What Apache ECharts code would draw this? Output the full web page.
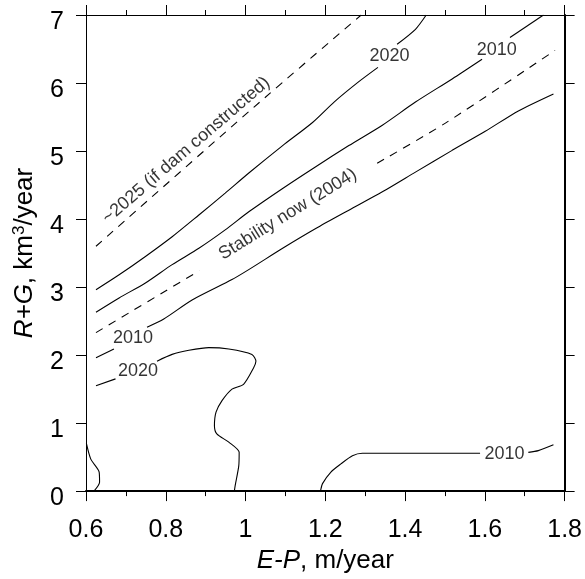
<!DOCTYPE html>
<html><head><meta charset="utf-8">
<script src="https://cdn.jsdelivr.net/npm/echarts@6/dist/echarts.min.js"></script>
<style>html,body{margin:0;padding:0;background:#fff}#c{width:585px;height:579px}</style>
</head><body><div id="c"></div>
<script>
// ---- data (E-P in m/year, R+G in km3/year) ----
const dam2025 = [[0.625,3.60],[1.022,5.65],[1.29,7.0]];
const stabilityA = [[0.625,2.33],[0.884,3.24]];
const stabilityB = [[1.33,4.82],[1.501,5.41],[1.776,6.48]];
const upper2020A = [[0.625,2.96],[0.683,3.18],[0.749,3.45],[0.816,3.74],[0.883,4.06],[0.949,4.38],[1.009,4.68],[1.093,5.08],[1.168,5.42],[1.222,5.72],[1.284,6.02],[1.332,6.23]];
const upper2020B = [[1.38,6.57],[1.426,6.79],[1.453,7.0]];
const upper2010A = [[0.625,2.63],[0.683,2.84],[0.749,3.06],[0.816,3.33],[0.883,3.57],[0.949,3.84],[1.009,4.11],[1.093,4.45],[1.176,4.77],[1.259,5.08],[1.343,5.38],[1.426,5.72],[1.518,6.06],[1.593,6.35]];
const upper2010B = [[1.663,6.67],[1.747,7.0]];
const lower2010A = [[0.625,1.96],[0.67,2.09]];
const lower2010B = [[0.753,2.41],[0.795,2.53],[0.866,2.81],[0.966,3.11],[1.009,3.26],[1.093,3.57],[1.176,3.86],[1.259,4.13],[1.343,4.40],[1.426,4.69],[1.518,5.01],[1.601,5.29],[1.684,5.59],[1.772,5.84]];
const lower2020A = [[0.625,1.55],[0.674,1.65]];
const lower2020B = [[0.778,1.91],[0.816,2.01],[0.858,2.07],[0.908,2.11],[0.958,2.09],[1.016,2.01],[1.026,1.91],[1.02,1.81],[0.995,1.57],[0.966,1.50],[0.941,1.33],[0.926,1.16],[0.922,0.96],[0.928,0.84],[0.958,0.72],[0.984,0.57],[0.983,0.37],[0.974,0.08],[0.972,0.0]];
const cornerLeft = [[0.601,0.70],[0.612,0.47],[0.633,0.28],[0.634,0.13],[0.62,0.0]];
const bottom2010A = [[1.188,0.0],[1.193,0.11],[1.214,0.28],[1.239,0.40],[1.268,0.52],[1.293,0.556],[1.588,0.556]];
const bottom2010B = [[1.709,0.57],[1.734,0.595],[1.772,0.68]];
const labelTexts = ['~2025 (if dam constructed)','Stability now (2004)','2020','2010','2010','2020','2010'];
const labelPos = [[0.851,5.01],[1.106,4.07],[1.361,6.39],[1.63,6.485],[0.718,2.25],[0.7305,1.765],[1.649,0.54]];
const labelAngle = [40.7,31.6,0,0,0,0,0];
const xTickRange = [0.6,1.8,0.2];
const yTickRange = [0,7,1];

const FONT = "'Liberation Sans', Arial, Helvetica, sans-serif";
function seg(data, dashed){
  return {type:'line', data:data, showSymbol:false, symbol:'none', smooth:0.25,
    lineStyle:{color:'#000', width:1.1, type: dashed ? [8,7] : 'solid'},
    silent:true, z:2};
}
const series = [
  seg(dam2025,true), seg(stabilityA,true), seg(stabilityB,true),
  seg(upper2020A), seg(upper2020B), seg(upper2010A), seg(upper2010B),
  seg(lower2010A), seg(lower2010B), seg(lower2020A), seg(lower2020B),
  seg(cornerLeft), seg(bottom2010A), seg(bottom2010B)
];
series.push({
  type:'scatter', symbolSize:0, silent:true, z:3,
  data: labelPos.map((p,i)=>({value:p, label:{rotate:labelAngle[i]}})),
  label:{show:true, position:'inside', color:'#000', fontSize:18, fontFamily:FONT,
    textBorderWidth:0, textBorderColor:'transparent',
    formatter: p => labelTexts[p.dataIndex]}
});
const tickCommon = {show:true, length:10, lineStyle:{color:'#000', width:1}};
const minorCommon = {show:true, splitNumber:2, length:5, lineStyle:{color:'#000', width:1}};
const option = {
  animation:false,
  backgroundColor:'#fff',
  grid:{left:86, right:19.5, top:15, bottom:87},
  xAxis:[{
    type:'value', min:xTickRange[0], max:xTickRange[1], interval:xTickRange[2], position:'bottom',
    axisLine:{show:true, onZero:false, lineStyle:{color:'#000', width:2}},
    axisTick:tickCommon, minorTick:minorCommon, splitLine:{show:false},
    axisLabel:{color:'#000', fontSize:25, fontFamily:FONT, margin:27},
    name:'{i|E-P}, m/year', nameLocation:'middle', nameGap:50,
    nameTextStyle:{color:'#000', fontSize:26, fontFamily:FONT, rich:{i:{fontStyle:'italic', fontSize:26, fontFamily:FONT, color:'#000'}}}
  },{
    type:'value', min:xTickRange[0], max:xTickRange[1], interval:xTickRange[2], position:'top',
    axisLine:{show:true, onZero:false, lineStyle:{color:'#000', width:1}},
    axisTick:tickCommon, minorTick:minorCommon, splitLine:{show:false}, axisLabel:{show:false}
  }],
  yAxis:[{
    type:'value', min:yTickRange[0], max:yTickRange[1], interval:yTickRange[2], position:'left',
    axisLine:{show:true, onZero:false, lineStyle:{color:'#000', width:1}},
    axisTick:tickCommon, splitLine:{show:false},
    axisLabel:{color:'#000', fontSize:25, fontFamily:FONT, margin:22, verticalAlign:'top', lineHeight:15},
    name:'{i|R+G}, km{s|3}/year', nameLocation:'middle', nameGap:46, nameRotate:90,
    nameTextStyle:{color:'#000', fontSize:26, fontFamily:FONT, lineHeight:28,
      rich:{i:{fontStyle:'italic', fontSize:26, fontFamily:FONT, color:'#000', lineHeight:28},
            s:{fontSize:17, fontFamily:FONT, color:'#000', verticalAlign:'top', lineHeight:17}}}
  },{
    type:'value', min:yTickRange[0], max:yTickRange[1], interval:yTickRange[2], position:'right',
    axisLine:{show:true, onZero:false, lineStyle:{color:'#000', width:2}},
    axisTick:tickCommon, splitLine:{show:false}, axisLabel:{show:false}
  }],
  series: series
};
const chart = echarts.init(document.getElementById('c'), null, {renderer:'canvas'});
chart.setOption(option);
</script></body></html>
